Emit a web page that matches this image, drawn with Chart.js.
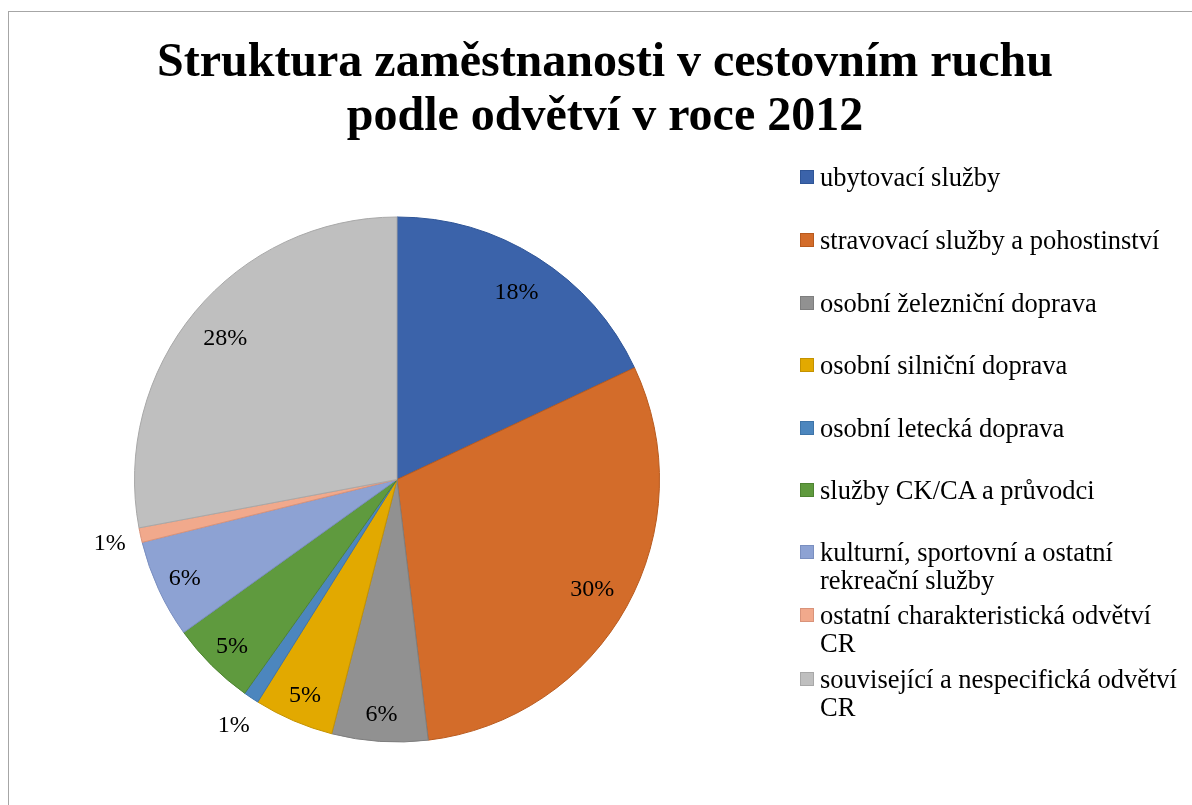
<!DOCTYPE html>
<html>
<head>
<meta charset="utf-8">
<script src="https://cdn.jsdelivr.net/npm/chart.js@4"></script>
<style>
  html, body { margin:0; padding:0; background:#fff; }
  #wrap { position:relative; width:1192px; height:805px; overflow:hidden; background:#fff; }
  #frame { position:absolute; left:8px; top:11px; width:1300px; height:900px; border-left:1.5px solid #A6A6A6; border-top:1.5px solid #A6A6A6; }
  canvas { position:absolute; left:0; top:0; }
  .title { position:absolute; left:0; width:1210px; text-align:center; font-family:"Liberation Serif","Times New Roman",serif; font-weight:bold; font-size:48px; line-height:54px; color:#000; white-space:nowrap; }
  #legend { position:absolute; left:0; top:0; font-family:"Liberation Serif","Times New Roman",serif; font-size:26.5px; color:#000; }
  .lg-line { position:absolute; left:820px; white-space:nowrap; line-height:30px; }
  .lg-box { position:absolute; left:800px; width:12px; height:12px; border:1px solid; }
</style>
</head>
<body>
<div id="wrap">
  <div id="frame"></div>
  <canvas id="c" width="1192" height="805"></canvas>
  <div class="title" style="top:33px">Struktura zaměstnanosti v cestovním ruchu</div>
  <div class="title" style="top:87px">podle odvětví v roce 2012</div>
  <div id="legend"></div>
</div>
<script>
// ---- data ----
const titleLines = ["Struktura zaměstnanosti v cestovním ruchu", "podle odvětví v roce 2012"];
const categories = [
  "ubytovací služby",
  "stravovací služby a pohostinství",
  "osobní železniční doprava",
  "osobní silniční doprava",
  "osobní letecká doprava",
  "služby CK/CA a průvodci",
  "kulturní, sportovní a ostatní rekreační služby",
  "ostatní charakteristická odvětví CR",
  "související a nespecifická odvětví CR"
];
const legendLines = [
  ["ubytovací služby"],
  ["stravovací služby a pohostinství"],
  ["osobní železniční doprava"],
  ["osobní silniční doprava"],
  ["osobní letecká doprava"],
  ["služby CK/CA a průvodci"],
  ["kulturní, sportovní a ostatní", "rekreační služby"],
  ["ostatní charakteristická odvětví", "CR"],
  ["související a nespecifická odvětví", "CR"]
];
const shares = [18.0, 30.1, 5.9, 4.9, 0.95, 5.25, 6.05, 0.9, 27.95];
const shareLabels = ["18%", "30%", "6%", "5%", "1%", "5%", "6%", "1%", "28%"];

// ---- styles ----
const fillColors = ["#3B63AA","#D36C2A","#919191","#E2A900","#4C86BE","#5F9A3E","#8DA2D3","#F1A98C","#BFBFBF"];
const edgeColors = ["#2F5597","#B85A1E","#7E7E7E","#C49200","#3E74A8","#4E8432","#7A8FC0","#D9937A","#A8A8A8"];

// legend (HTML text)
const legendEl = document.getElementById('legend');
const lineTops = [[162],[225],[288],[350],[413],[475],[537,565],[600,628],[664,692]];
legendLines.forEach((lines, i) => {
  const box = document.createElement('div');
  box.className = 'lg-box';
  box.style.top = (lineTops[i][0] + 8) + 'px';
  box.style.background = fillColors[i];
  box.style.borderColor = edgeColors[i];
  legendEl.appendChild(box);
  lines.forEach((t, j) => {
    const d = document.createElement('div');
    d.className = 'lg-line';
    d.style.top = lineTops[i][j] + 'px';
    d.textContent = t;
    legendEl.appendChild(d);
  });
});

const labelPlugin = {
  id: 'sliceLabels',
  afterDatasetsDraw(chart) {
    const ctx = chart.ctx;
    const meta = chart.getDatasetMeta(0);
    ctx.save();
    ctx.font = '24px "Liberation Serif", "Times New Roman", serif';
    ctx.fillStyle = '#000';
    ctx.textAlign = 'center';
    ctx.textBaseline = 'alphabetic';
    meta.data.forEach((arc, i) => {
      const p = arc.getProps(['x','y','startAngle','endAngle','outerRadius'], true);
      const mid = (p.startAngle + p.endAngle) / 2;
      const v = shares[i];
      const ratio = v < 2 ? 1.12 : (v > 10 ? 0.85 : 0.89);
      const r = p.outerRadius * ratio;
      const x = p.x + Math.cos(mid) * r;
      const y = p.y + Math.sin(mid) * r;
      ctx.fillText(shareLabels[i], x, y + 8);
    });
    ctx.restore();
  }
};

new Chart(document.getElementById('c'), {
  type: 'pie',
  data: {
    labels: categories,
    datasets: [{
      data: shares,
      backgroundColor: fillColors,
      borderColor: edgeColors,
      borderWidth: 1
    }]
  },
  options: {
    responsive: false,
    animation: false,
    layout: { padding: { left: 134, top: 216, right: 532, bottom: 62 } },
    plugins: {
      legend: { display: false },
      title: { display: false },
      tooltip: { enabled: false }
    }
  },
  plugins: [labelPlugin]
});
</script>
</body>
</html>
